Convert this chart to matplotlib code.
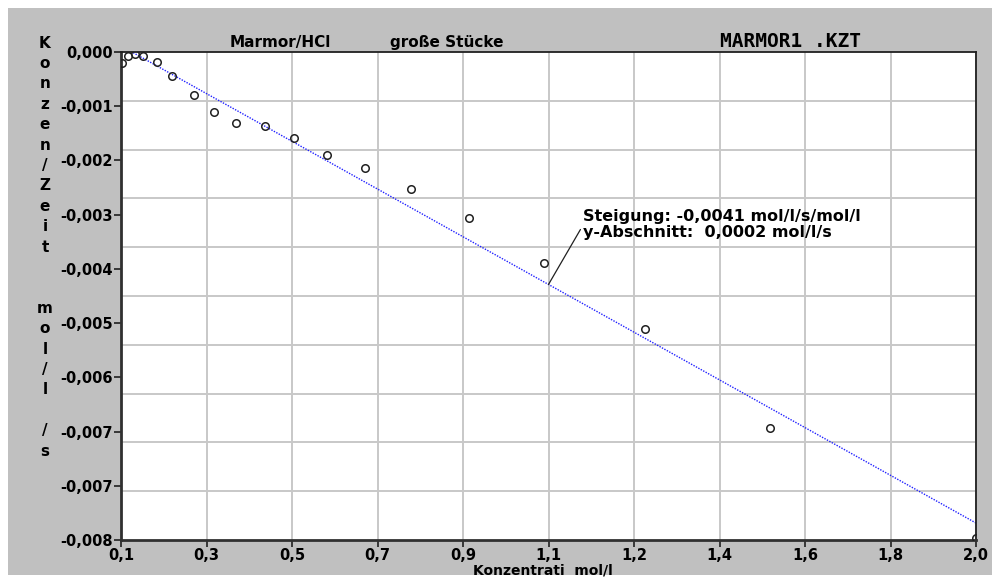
import numpy as np
import matplotlib.pyplot as plt
from matplotlib.patches import Rectangle

# data
konz = [0.103, 0.116, 0.131, 0.148, 0.179, 0.214, 0.262, 0.307, 0.356, 0.419,
        0.484, 0.558, 0.642, 0.745, 0.873, 1.040, 1.264, 1.542, 2.000]
rate = [-0.000185, -0.000061, -0.000033, -0.000061, -0.000159, -0.000393,
        -0.000705, -0.000979, -0.001159, -0.001213, -0.001415, -0.001693,
        -0.001906, -0.002241, -0.002726, -0.003463, -0.004545, -0.006158,
        -0.007967]
fit_slope = -0.004117
fit_intercept = 0.000512

x_ticks = np.linspace(0.1, 2.0, 11)
x_labels = ['0,1', '0,3', '0,5', '0,7', '0,9', '1,1', '1,2', '1,4', '1,6', '1,8', '2,0']
y_ticks = np.linspace(0.0, -0.008, 10)
y_labels = ['0,000', '-0,001', '-0,002', '-0,003', '-0,004', '-0,005',
            '-0,006', '-0,007', '-0,007', '-0,008']
y_grid = np.linspace(0.0, -0.008, 11)

W, H = 992, 578
fig = plt.figure(figsize=(W / 100, H / 100), dpi=100, facecolor='white')
fig.patches.append(Rectangle((8 / W, 3 / H), 984 / W, 567 / H, transform=fig.transFigure,
                             facecolor='#c0c0c0', edgecolor='none', zorder=-10))

ax = fig.add_axes([121 / W, (H - 540) / H, 855 / W, 488 / H])
ax.set_facecolor('white')
ax.set_xlim(0.1, 2.0)
ax.set_ylim(-0.008, 0.0)

ax.set_xticks(x_ticks)
ax.set_xticklabels(x_labels)
ax.set_yticks(y_ticks)
ax.set_yticklabels(y_labels)
ax.set_yticks(y_grid, minor=True)
ax.tick_params(which='minor', length=0)
ax.tick_params(which='major', length=5, width=1.2, color='#202020', pad=1,
               labelsize=10.5)
for lab in ax.get_xticklabels() + ax.get_yticklabels():
    lab.set_fontweight('bold')

ax.grid(True, axis='x', which='major', color='#c8c8c8', lw=1.4)
ax.grid(True, axis='y', which='minor', color='#c8c8c8', lw=1.4)
ax.set_axisbelow(True)

for side in ['left', 'bottom']:
    ax.spines[side].set_linewidth(2)
    ax.spines[side].set_color('#303030')
for side in ['top', 'right']:
    ax.spines[side].set_linewidth(1.3)
    ax.spines[side].set_color('#202020')

# fitted line
xs = np.array([0.1, 2.0])
ax.plot(xs, fit_intercept + fit_slope * xs, color='#2020ff', lw=1.0,
        linestyle=(0, (1, 1)), zorder=2)

# measured points
ax.plot(konz, rate, 'o', mfc='none', mec='#202020', mew=1.1, ms=5.4, zorder=3)

# annotation of the fit
xa = 1.05
ax.annotate('Steigung: -0,0041 mol/l/s/mol/l\ny-Abschnitt:  0,0002 mol/l/s',
            xy=(xa, fit_intercept + fit_slope * xa), xytext=(25, 32),
            textcoords='offset points', fontsize=11.5, fontweight='bold',
            va='bottom', ha='left', linespacing=1.05,
            arrowprops=dict(arrowstyle='-', color='#202020', lw=0.9,
                            shrinkA=0, shrinkB=0, relpos=(0, 0.5)))

# header texts
fig.text(230 / W, 1 - 47 / H, 'Marmor/HCl', fontsize=11, fontweight='bold',
         va='baseline', ha='left')
fig.text(390 / W, 1 - 47 / H, 'große Stücke', fontsize=11, fontweight='bold',
         va='baseline', ha='left')
fig.text(720 / W, 1 - 47 / H, 'MARMOR1 .KZT', fontsize=14, fontweight='bold',
         family='DejaVu Sans Mono', va='baseline', ha='left')

# stacked y axis title
ylab = 'Konzen/Zeit  mol/l /s'
for i, ch in enumerate(ylab):
    if ch != ' ':
        fig.text(45 / W, 1 - (43 + i * 20.4) / H, ch, fontsize=11, fontweight='bold',
                 ha='center', va='center')

# x axis title (at the lower edge)
fig.text(543 / W, 1 - 563 / H, 'Konzentrati  mol/l', fontsize=10, fontweight='bold',
         ha='center', va='top')

fig.savefig('out.png', dpi=100, facecolor='white')
